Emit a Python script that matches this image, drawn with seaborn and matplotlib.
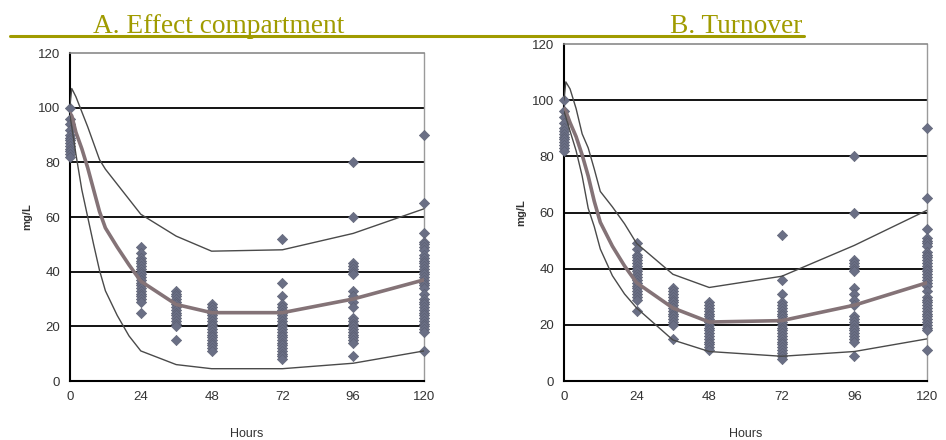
# ------------------------------
# IMPORT LIBRARIES
# ------------------------------

import pandas as pd
import numpy as np

import matplotlib
matplotlib.use("Agg")
import matplotlib.pyplot as plt
from matplotlib.lines import Line2D
import seaborn as sns

# ------------------------------
# DATA
# ------------------------------

# observed concentrations, same in both panels
obs_0 = [100, 96, 94, 92, 90, 89, 88, 87, 86, 85, 84, 83, 82]
obs_24 = [49, 47, 45, 44, 43, 42, 41, 40, 39, 38, 37, 36, 35, 34, 33, 32, 31, 30, 29, 25]
obs_36 = [33, 32, 31, 30, 29, 28, 27, 26, 25, 24, 23, 22, 21, 20, 15]
obs_48 = [28, 27, 26, 25, 24, 23, 22, 21, 20, 19, 18, 17, 16, 15, 14, 13, 12, 11]
obs_72 = [52, 36, 31, 28, 27, 26, 25, 24, 23, 22, 21, 20, 19, 18, 17, 16, 15, 14, 13, 12, 11, 10, 9, 8]
obs_96 = [80, 60, 43, 42, 41, 40, 39, 33, 31, 29, 27, 23, 22, 21, 20, 19, 18, 17, 16, 15, 14, 9]
obs_120 = [90, 65, 54, 51, 50, 49, 48, 46, 45, 44, 43, 42, 41, 40, 39, 38, 37, 36, 35, 34,
           32, 30, 29, 28, 27, 26, 25, 24, 23, 22, 21, 20, 19, 18, 11]

obs_hours = [0, 24, 36, 48, 72, 96, 120]

# model prediction curves
curve_hours = [0, 0.6, 2, 4, 6, 8, 10, 12, 16, 20, 24, 36, 48, 72, 96, 120]

a_upper = [101, 107, 104, 98.5, 93, 87, 81, 77.5, 72, 66.5, 61, 53, 47.5, 48, 54, 63]
a_median = [98, 97, 91, 85, 78, 70, 62, 56, 49, 42.5, 36.5, 28, 25, 25, 30, 37]
a_lower = [97, 93, 83, 70, 60, 50, 40.5, 33, 24, 16.5, 11, 6, 4.5, 4.5, 6.5, 11]

b_upper = [100, 106.5, 104, 97, 88, 83, 75.5, 67.5, 62, 56, 49, 38, 33.3, 37.3, 48.3, 60.8]
b_median = [97, 96, 92, 87, 80.5, 73, 64, 56.5, 48, 41, 35, 26, 21, 21.5, 27, 35]
b_lower = [96, 94, 89, 82, 73, 61.5, 55, 47, 37.5, 31, 26, 14.6, 10.5, 8.8, 10.5, 15]

x_ticks = [0, 24, 48, 72, 96, 120]
y_ticks = [0, 20, 40, 60, 80, 100, 120]

titles = ["A. Effect compartment", "B. Turnover"]

# ------------------------------
# BUILD TABLES
# ------------------------------

obs_lists = [obs_0, obs_24, obs_36, obs_48, obs_72, obs_96, obs_120]

obs_df = pd.DataFrame({
    "Hours": np.concatenate([[h] * len(v) for h, v in zip(obs_hours, obs_lists)]),
    "mg/L": np.concatenate(obs_lists)
})

curves = {
    "A": {"upper": a_upper, "median": a_median, "lower": a_lower},
    "B": {"upper": b_upper, "median": b_median, "lower": b_lower},
}

# ------------------------------
# STYLE
# ------------------------------

sns.set_style("white")
plt.rcParams["font.family"] = ["Liberation Sans", "DejaVu Sans"]

olive = "#A09B00"
point_col = "#6a6f85"
median_col = "#847377"
bound_col = "#4a4a4a"
text_col = "#333333"

fig = plt.figure(figsize=(9.46, 4.40), dpi=100)

ax_a = fig.add_axes([70 / 946, 1 - 381 / 440, 354 / 946, 328 / 440])
ax_b = fig.add_axes([564 / 946, 1 - 381 / 440, 363 / 946, 337 / 440])

# ------------------------------
# DRAW PANELS
# ------------------------------

for ax, key in [(ax_a, "A"), (ax_b, "B")]:

    for y in [20, 40, 60, 80, 100]:
        ax.axhline(y, color="black", lw=1.3, zorder=1)

    sns.scatterplot(
        data=obs_df,
        x="Hours",
        y="mg/L",
        marker="D",
        s=28,
        color=point_col,
        edgecolor="#5a5e70",
        linewidth=0.4,
        clip_on=False,
        ax=ax,
        zorder=3
    )

    for name, vals in curves[key].items():
        line_df = pd.DataFrame({"Hours": curve_hours, "value": vals})
        sns.lineplot(
            data=line_df,
            x="Hours",
            y="value",
            color=median_col if name == "median" else bound_col,
            lw=2.6 if name == "median" else 1.0,
            estimator=None,
            sort=False,
            ax=ax,
            zorder=4
        )

    ax.set_xlim(0, 120)
    ax.set_ylim(0, 120)
    ax.set_xticks(x_ticks)
    ax.set_yticks(y_ticks)
    ax.tick_params(axis="both", direction="out", length=4, width=1.2,
                   colors="black", labelcolor=text_col, labelsize=9.5, pad=3)

    ax.spines["left"].set_color("black")
    ax.spines["left"].set_linewidth(1.5)
    ax.spines["bottom"].set_color("black")
    ax.spines["bottom"].set_linewidth(1.5)
    ax.spines["top"].set_color("#8a8a8a")
    ax.spines["top"].set_linewidth(1.2)
    ax.spines["right"].set_color("#9a9a9a")
    ax.spines["right"].set_linewidth(1.0)

    ax.set_xlabel("Hours", fontsize=9, color=text_col, labelpad=18)
    ax.set_ylabel("mg/L", fontsize=8, fontweight="bold", color=text_col, labelpad=4)

# ------------------------------
# TITLES
# ------------------------------

fig.text(93 / 946, 1 - 33 / 440, titles[0], fontsize=19.7, color=olive,
         family=["Liberation Serif", "DejaVu Serif"], va="baseline")
fig.text(670 / 946, 1 - 33 / 440, titles[1], fontsize=19.7, color=olive,
         family=["Liberation Serif", "DejaVu Serif"], va="baseline")

fig.add_artist(Line2D([10 / 946, 804 / 946], [1 - 36 / 440, 1 - 36 / 440],
                      color=olive, lw=2.2))

fig.savefig("out.png", dpi=100)
